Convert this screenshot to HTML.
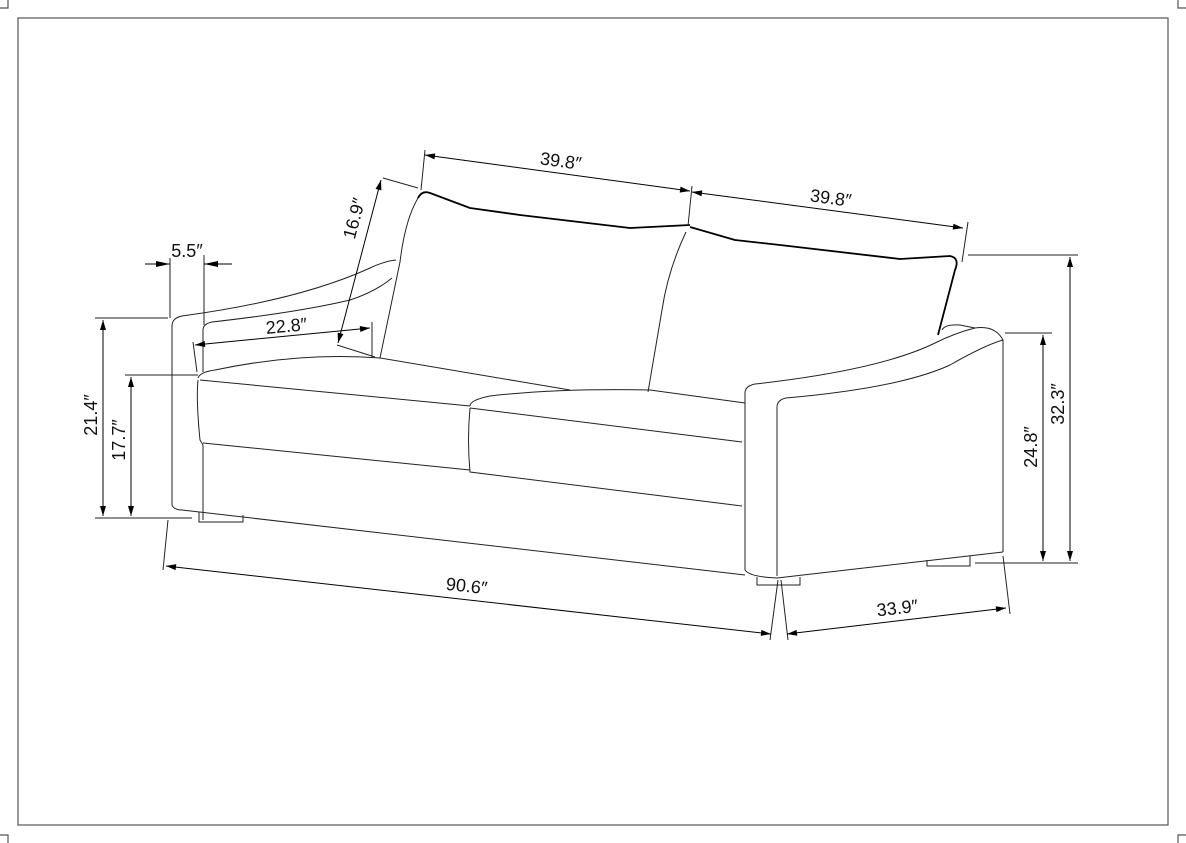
<!DOCTYPE html>
<html><head><meta charset="utf-8"><style>
html,body{margin:0;padding:0;background:#fff}
svg{display:block}
text{font-family:"Liberation Sans",sans-serif;font-size:18px;fill:#111}
</style></head><body>
<svg width="1186" height="843" viewBox="0 0 1186 843" xmlns="http://www.w3.org/2000/svg">
<defs>
<marker id="a" viewBox="0 0 10 6" refX="10" refY="3" markerWidth="14" markerHeight="6" markerUnits="userSpaceOnUse" orient="auto-start-reverse"><path d="M0,0L10,3L0,6z" fill="#000"/></marker>
</defs>
<g fill="none" stroke="#555" stroke-width="1.2">
<rect x="18" y="18" width="1150" height="807"/>
<path d="M0,8H8V0M1178,0V8H1186M0,835H8V843M1178,843V835H1186"/>
</g>
<g fill="none" stroke="#222" stroke-width="1">
<!-- left arm -->
<path d="M172,505V326Q172,318 182,316Q300,300 370,268Q385,261 396,260"/>
<path d="M203,372V330Q203,324 212,322Q300,312 350,300Q375,292 392,278"/>
<path d="M203,445V520"/>
<path d="M172,505Q174,510 182,510L745,575"/>
<path d="M199,512V522H243V515"/>
<!-- back cushions -->
<path d="M418,198Q405,220 400,262L380,358"/>
<path d="M686,232Q668,270 662,310L648,392"/>
<!-- seat -->
<path d="M198,378Q200,372 215,370Q300,352 380,358L570,390"/>
<path d="M200,380L470,406"/>
<path d="M198,380Q196,400 200,440L203,445"/>
<path d="M203,443L470,470"/>
<path d="M470,406Q470,400 490,396Q560,388 650,390L745,403"/>
<path d="M470,408L742,442"/>
<path d="M470,408Q467,440 470,472L742,506"/>
<!-- right arm -->
<path d="M745,570V393Q745,386 755,384Q880,370 935,343Q955,333 975,328Q995,325 1003,340V552"/>
<path d="M777,576V407Q777,400 786,398Q900,388 950,365Q985,345 1003,340"/>
<path d="M745,570Q750,577 777,578L1003,552"/>
<path d="M757,577V585H800V577"/>
<path d="M927,560V566H970V556"/>
<path d="M942,330Q945,324 960,325L975,328"/>
</g>
<g fill="none" stroke="#000" stroke-width="1.8" stroke-linejoin="round">
<path d="M418,198Q422,190 430,193L470,208L520,215L630,228L690,225"/>
<path d="M690,227L735,240L780,245L900,259L950,256Q960,258 955,270L938,335"/>
</g>
<g fill="none" stroke="#222" stroke-width="1">
<path d="M425,150L421,190M692,186L688,226M968,222L962,262"/>
<path d="M383,178L418,188M337,345L375,357"/>
<path d="M170,258V318M204,255V325"/>
<path d="M372,322V357M193,342L197,372"/>
<path d="M95,318H168M95,518H192M125,375H198"/>
<path d="M168,520L163,570"/>
<path d="M778,580L770,640M781,580L788,640M1003,556L1010,614"/>
<path d="M1005,333H1052M975,563H1078M968,255H1078"/>
</g>
<g fill="none" stroke="#000" stroke-width="1" marker-end="url(#a)" marker-start="url(#a)">
<path d="M425,155L690,191"/>
<path d="M692,192L963,228"/>
<path d="M381,180L338,343"/>
<path d="M195,345L370,328"/>
<path d="M103,320V516"/>
<path d="M131,377V516"/>
<path d="M166,566L771,634"/>
<path d="M787,634L1006,608"/>
<path d="M1043,335V561"/>
<path d="M1070,257V561"/>
</g>
<path d="M145,264H170M204,264H232" stroke="#000" stroke-width="1"/>
<path d="M170,264l-14,-3v6zM204,264l14,-3v6z" fill="#000"/>
<text x="560" y="167" text-anchor="middle" transform="rotate(7.7 560 167)">39.8″</text>
<text x="830" y="204" text-anchor="middle" transform="rotate(7.5 830 204)">39.8″</text>
<text x="360" y="220" text-anchor="middle" transform="rotate(-75 360 220)">16.9″</text>
<text x="187" y="257" text-anchor="middle">5.5″</text>
<text x="287" y="332" text-anchor="middle" transform="rotate(-5.5 287 332)">22.8″</text>
<text x="97" y="415" text-anchor="middle" transform="rotate(-90 97 415)">21.4″</text>
<text x="125" y="440" text-anchor="middle" transform="rotate(-90 125 440)">17.7″</text>
<text x="466" y="592" text-anchor="middle" transform="rotate(6.4 466 592)">90.6″</text>
<text x="898" y="614" text-anchor="middle" transform="rotate(-6.5 898 614)">33.9″</text>
<text x="1037" y="447" text-anchor="middle" transform="rotate(-90 1037 447)">24.8″</text>
<text x="1064" y="404" text-anchor="middle" transform="rotate(-90 1064 404)">32.3″</text>
</svg>
</body></html>
